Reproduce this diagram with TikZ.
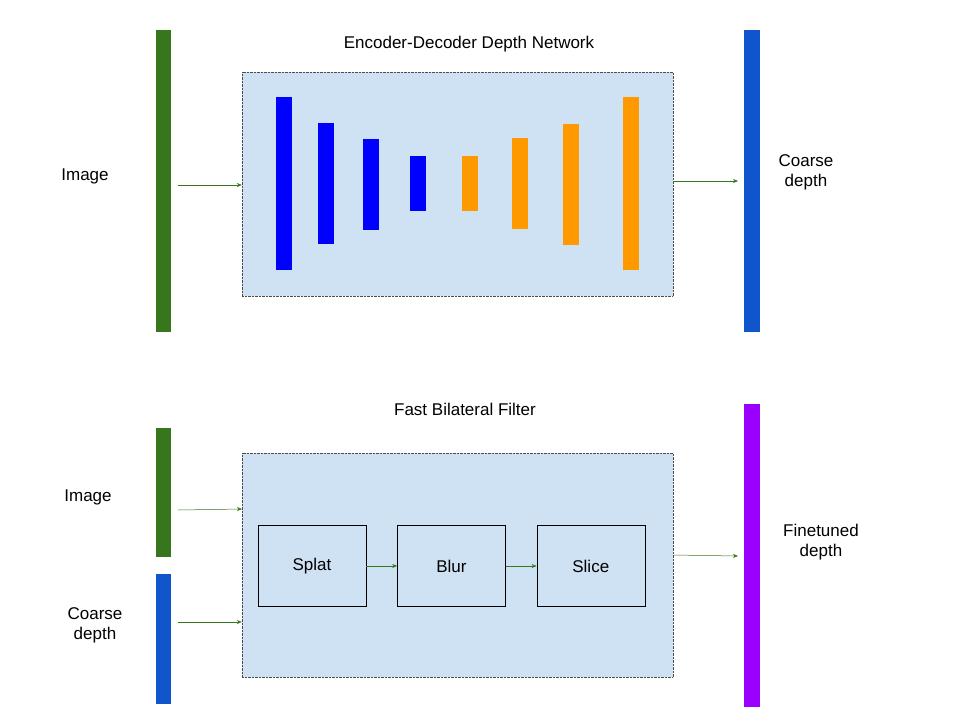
\documentclass[tikz,border=0pt]{standalone}
\usepackage{fontspec}
\setmainfont{Liberation Sans}
\usetikzlibrary{positioning, arrows.meta}
\definecolor{barGreen}{HTML}{38761D}
\definecolor{barBlue}{HTML}{1155CC}
\definecolor{layBlue}{HTML}{0000FF}
\definecolor{layOrange}{HTML}{FF9900}
\definecolor{barPurple}{HTML}{9900FF}
\definecolor{panelFill}{HTML}{CFE2F3}
\tikzset{
  bar/.style={draw=none, inner sep=0pt, minimum width=16pt},
  panel/.style={draw=black!70, densely dotted, fill=panelFill, inner sep=0pt},
  stage/.style={draw=black, fill=panelFill, inner sep=0pt, minimum width=108pt, minimum height=81pt},
  link/.style={draw=barGreen, -{Stealth[length=5pt,width=4pt]}, line width=0.5pt},
  lbl/.style={font=\fontsize{17}{20}\selectfont, align=center}
}
\begin{document}
\begin{tikzpicture}[x=1pt,y=-1pt]
\useasboundingbox (0,0) rectangle (960,720);
% Top row: encoder-decoder network
\fill[barGreen] (156,30) rectangle (171,332);
\coordinate (imgOut) at (178,185);
\fill[barBlue] (744,30) rectangle (760,332);
\node[panel, minimum width=431pt, minimum height=224pt] (net) at (457.5,184) {};
\node[lbl] (netTitle) at (469,44) {Encoder-Decoder Depth Network};
\node[lbl] (imgTop) at (85,176) {Image};
\node[lbl] (coarseTop) at (806,172) {Coarse\\depth};
% Layers
\foreach \xa/\ya/\yb/\col in {276/97/270/layBlue, 318/123/244/layBlue, 363/139/230/layBlue, 410/156/211/layBlue,
  462/156/211/layOrange, 512/138/229/layOrange, 563/124/245/layOrange, 623/97/270/layOrange}
  \fill[\col] (\xa,\ya) rectangle (\xa+16,\yb);
\draw[link] (imgOut) -- (imgOut -| net.west);
\coordinate (coarseIn) at (738,181);
\draw[link] (coarseIn -| net.east) -- (coarseIn);
% Bottom row: fast bilateral filter
\node[lbl] (bfTitle) at (465,409) {Fast Bilateral Filter};
\fill[barGreen] (156,428) rectangle (171,557);
\fill[barBlue] (156,574) rectangle (171,704);
\fill[barPurple] (744,404) rectangle (760,707);
\node[panel, minimum width=431pt, minimum height=224pt] (bf) at (457.5,565) {};
\node[lbl] (imgBot) at (88,497) {Image};
\node[lbl] (coarseBot) at (95,625) {Coarse\\depth};
\node[lbl] (fine) at (821,542) {Finetuned\\depth};
\node[stage] (splat) at (312,566) {\fontsize{17}{20}\selectfont Splat};
\node[stage, right=31pt of splat] (blur) {\fontsize{17}{20}\selectfont Blur};
\node[stage, right=31pt of blur] (slice) {\fontsize{17}{20}\selectfont Slice};
\draw[link] (splat) -- (blur);
\draw[link] (blur) -- (slice);
\coordinate (imgBotOut) at (178,510);
\coordinate (coarseBotOut) at (178,622);
\coordinate (fineIn) at (738,556);
\draw[link] (imgBotOut) -- (242,509);
\draw[link] (coarseBotOut) -- (coarseBotOut -| bf.west);
\draw[link] (673,555) -- (fineIn);
\end{tikzpicture}
\end{document}
